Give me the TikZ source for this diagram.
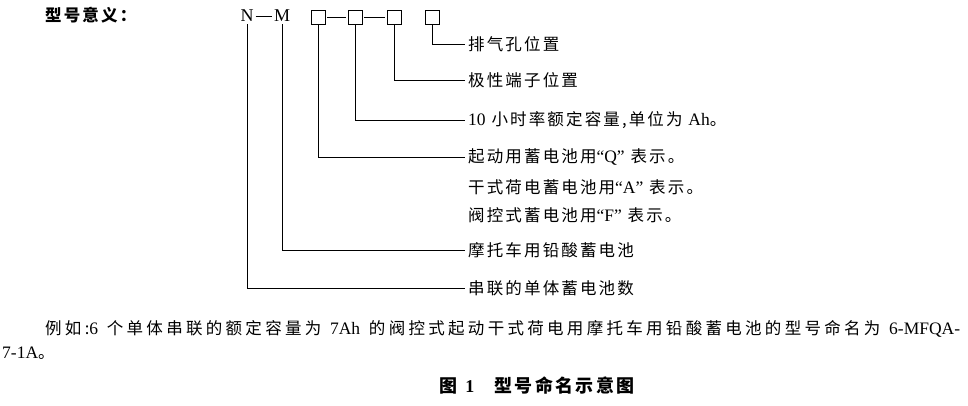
\documentclass[tikz,border=0pt]{standalone}
\usepackage{fontspec}
\setmainfont{Noto Sans CJK SC}[LetterSpace=13]
\newfontfamily\latinf{Liberation Serif}
\begin{document}
\begin{tikzpicture}[x=1pt,y=-1pt,
  lbl/.style={anchor=west,inner sep=0pt,font=\fontsize{16.5}{18}\selectfont},
  txt/.style={anchor=west,inner sep=0pt,font=\fontsize{16.5}{18}\selectfont},
  sq/.style={draw,line width=0.9pt,minimum width=14pt,minimum height=14pt,inner sep=0pt},
  ln/.style={line width=0.9pt}]
\useasboundingbox (0,0) rectangle (968,406);
\node[txt,font=\fontsize{16.5}{18}\selectfont\bfseries] (title) at (45,15) {型号意义：};
\node[inner sep=0pt,font=\latinf\fontsize{18}{20}\selectfont] (N) at (247,16) {N};
\node[inner sep=0pt,font=\latinf\fontsize{18}{20}\selectfont] (M) at (282,16) {M};
\draw[ln] (N.east)+(2,0) -- ([xshift=-2]M.west);
\node[sq] (b1) at (318,17) {};
\node[sq] (b2) at (355,17) {};
\node[sq] (b3) at (394,17) {};
\node[sq] (b4) at (432,17) {};
\draw[ln] (b1.east)+(2,0) -- ([xshift=-2]b2.west);
\draw[ln] (b2.east)+(2,0) -- ([xshift=-2]b3.west);
\node[lbl] (l1) at (468,44) {排气孔位置};
\node[lbl] (l2) at (468,80) {极性端子位置};
\node[lbl] (l3) at (468,120) {{\latinf\fontsize{17.5}{18}\selectfont 10} 小时率额定容量,单位为 {\latinf\fontsize{17.5}{18}\selectfont Ah}。};
\node[lbl] (l4) at (468,157) {起动用蓄电池用{\latinf\fontsize{17.5}{18}\selectfont “Q”} 表示。};
\node[lbl] (l5) at (468,187) {干式荷电蓄电池用{\latinf\fontsize{17.5}{18}\selectfont “A”} 表示。};
\node[lbl] (l6) at (468,215) {阀控式蓄电池用{\latinf\fontsize{17.5}{18}\selectfont “F”} 表示。};
\node[lbl] (l7) at (468,250) {摩托车用铅酸蓄电池};
\node[lbl] (l8) at (468,288) {串联的单体蓄电池数};
\draw[ln] (b4.south) |- ([xshift=-3]l1.west);
\draw[ln] (b3.south) |- ([xshift=-3]l2.west);
\draw[ln] (b2.south) |- ([xshift=-3]l3.west);
\draw[ln] (b1.south) |- ([xshift=-3]l4.west);
\draw[ln] ([yshift=-2]M.south) |- ([xshift=-3]l7.west);
\draw[ln] ([yshift=-2]N.south) |- ([xshift=-3]l8.west);
\node[txt,anchor=west] (ex) at (45,329) {\addfontfeature{LetterSpace=20}\makebox[915pt][s]{例如:{\latinf\fontsize{17.5}{18}\selectfont 6} 个单体串联的额定容量为 {\latinf\fontsize{17.5}{18}\selectfont 7Ah} 的阀控式起动干式荷电用摩托车用铅酸蓄电池的型号命名为 {\latinf\fontsize{17.5}{18}\selectfont 6-MFQA-}}};
\node[txt] (ex2) at (2,353) {{\latinf\fontsize{17.5}{18}\selectfont 7-1A}。};
\node[inner sep=0pt,font=\fontsize{18}{20}\selectfont\bfseries] (cap) at (537,386) {图\hspace{8pt}{\latinf\bfseries 1}\hspace{20pt}型号命名示意图};
\end{tikzpicture}
\end{document}
